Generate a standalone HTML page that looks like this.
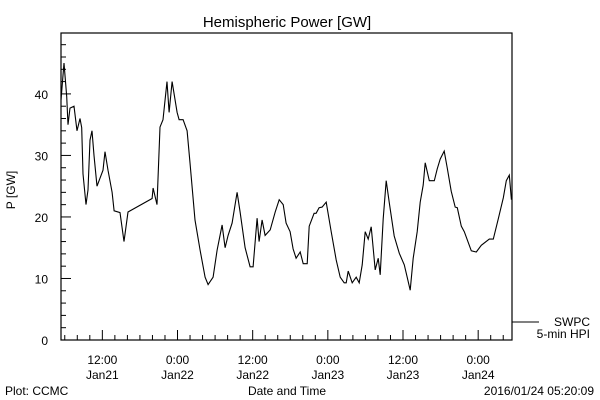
<!DOCTYPE html>
<html><head><meta charset="utf-8"><style>
html,body{margin:0;padding:0;background:#fff;}
svg{display:block;font-family:"Liberation Sans",sans-serif;}
text{fill:#000;}
</style></head><body>
<svg id="chart" width="600" height="400" viewBox="0 0 600 400">
<rect x="0" y="0" width="600" height="400" fill="#fff"/>
<text x="287" y="27" font-size="15" text-anchor="middle">Hemispheric Power [GW]</text>
<text x="0" y="0" font-size="12" text-anchor="middle" transform="translate(15,190) rotate(-90)">P [GW]</text>
<g id="axes"></g>
<path id="series" fill="none" stroke="#000" stroke-width="1.1"/>
<g>
<line x1="512" y1="322" x2="539" y2="322" stroke="#000"/>
<text x="590" y="326" font-size="12" text-anchor="end">SWPC</text>
<text x="590" y="338" font-size="12" text-anchor="end">5-min HPI</text>
</g>
<text x="5" y="395" font-size="12">Plot: CCMC</text>
<text x="287" y="395" font-size="12" text-anchor="middle">Date and Time</text>
<text x="594" y="395" font-size="12" text-anchor="end">2016/01/24 05:20:09</text>
</svg>
<script>
const hours=[5.4,5.88,6.31,6.52,6.84,7.48,7.96,8.43,8.71,8.91,9.39,9.71,10.03,10.35,10.67,11.15,11.63,12.11,12.43,12.91,13.55,13.87,14.82,15.46,16.1,19.94,20.1,20.73,21.21,21.69,22.33,22.65,23.13,23.93,24.25,24.89,25.53,26.0,26.8,27.6,28.4,28.88,29.68,30.32,31.12,31.6,32.08,32.71,33.51,33.99,34.79,35.59,36.07,36.71,37.03,37.51,37.99,38.79,39.59,40.23,40.87,41.34,41.98,42.46,42.94,43.58,44.06,44.7,45.02,45.81,46.13,46.61,47.09,47.73,48.53,49.33,49.97,50.61,50.93,51.25,51.89,52.52,53.0,53.48,53.96,54.44,54.92,55.56,56.04,56.36,56.84,57.32,57.8,58.6,59.4,60.2,60.67,61.15,61.63,62.27,62.75,63.23,63.55,64.19,64.99,65.46,65.94,66.58,67.06,67.7,68.34,68.66,69.3,69.78,70.9,71.7,72.5,73.77,74.41,75.21,76.01,76.49,76.97,77.3];
const power=[39,45,39.6,35,37.7,38,34,36,34.5,27,22,24.4,32.5,34,30,25,26.3,27.6,30.6,27.6,24,21,20.7,16,20.8,23,24.7,22,34.6,35.8,42,37,42,37,35.8,35.8,34,28.8,19.5,14.6,10.2,9,10.2,14.6,18.7,15,17,19,24,20.8,15,11.9,11.9,19.8,16,19.5,17,17.9,20.8,22.8,22,19,17.6,14.8,13.3,14.3,12.4,12.4,18.5,20.6,20.6,21.5,21.6,22.4,17.6,13,10.2,9.3,9.3,11.2,9.3,10.2,9.3,12.2,17.6,16.4,18.4,11.4,13.3,10.6,19.7,25.9,22.4,16.9,14.1,12.2,10.2,8.1,13.3,17.6,22.4,25.2,28.8,25.9,25.9,27.8,29.4,30.7,28,24.2,21.6,21.5,18.5,17.6,14.5,14.3,15.4,16.4,16.4,19.7,23.1,25.9,26.8,22.8,18];
const yTicks=[0,10,20,30,40];
const xTickHours=[12,24,36,48,60,72];
const xTickLabels=[["12:00","Jan21"],["0:00","Jan22"],["12:00","Jan22"],["0:00","Jan23"],["12:00","Jan23"],["0:00","Jan24"]];
const X0=61,X1=512,Y0=340,Y1=33,HMIN=5.4,HMAX=77.4,VMAX=49.9;
const sx=h=>X0+(h-HMIN)/(HMAX-HMIN)*(X1-X0);
const sy=v=>Y0-v/VMAX*(Y0-Y1);
const NS="http://www.w3.org/2000/svg";
const axes=document.getElementById('axes');
function mk(tag,attrs,parent){const e=document.createElementNS(NS,tag);for(const k in attrs)e.setAttribute(k,attrs[k]);(parent||axes).appendChild(e);return e;}
const frame=mk('rect',{x:X0,y:Y1,width:X1-X0,height:Y0-Y1,fill:'none',stroke:'#000','stroke-width':1.2});


for(let v=0;v<=48;v+=2){const major=v%10===0;const y=sy(v);
const t=mk('line',{x1:X0,y1:y,x2:X0+(major?10:5),y2:y,stroke:'#000'});

}
yTicks.forEach(v=>{const t=mk('text',{x:X0-13,y:sy(v)+5,'font-size':12,'text-anchor':'end'});t.textContent=v;

});
for(let h=6;h<=HMAX;h+=2){const major=h%12===0;const x=sx(h);
const t=mk('line',{x1:x,y1:Y0,x2:x,y2:Y0-(major?10:5),stroke:'#000'});

}
xTickHours.forEach((h,i)=>{const x=sx(h);
const a=mk('text',{x:x,y:364,'font-size':12,'text-anchor':'middle'});a.textContent=xTickLabels[i][0];


const b=mk('text',{x:x,y:379,'font-size':12,'text-anchor':'middle'});b.textContent=xTickLabels[i][1];

});
document.getElementById('series').setAttribute('d',hours.map((h,i)=>(i?'L':'M')+sx(h).toFixed(1)+','+sy(power[i]).toFixed(1)).join(''));
</script>
</body></html>
